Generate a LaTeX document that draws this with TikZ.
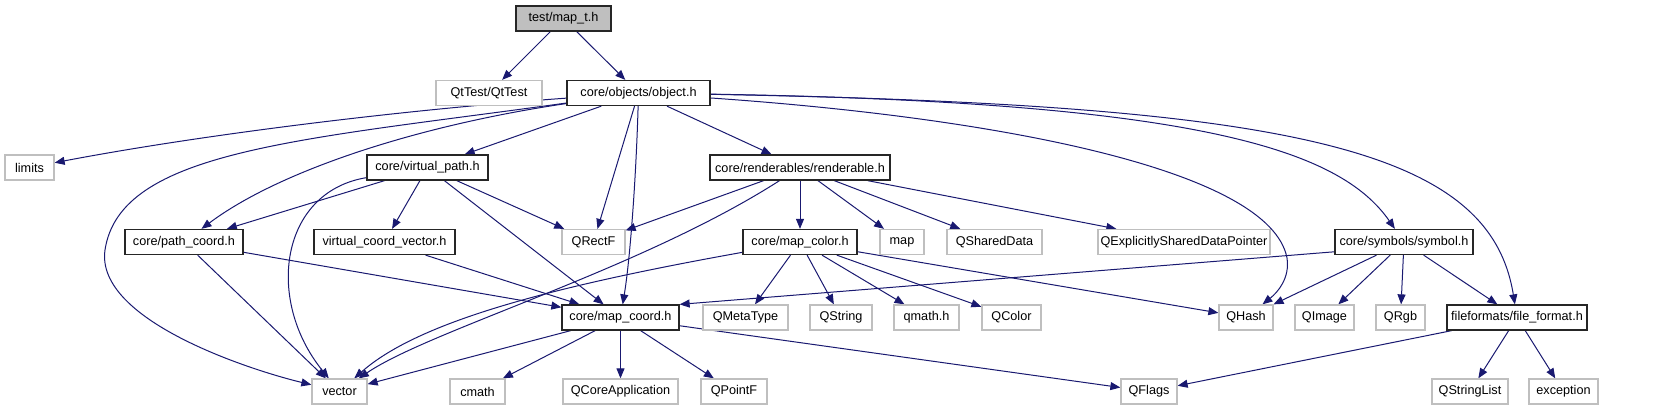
\documentclass[tikz,border=0pt]{standalone}
\usepackage{fontspec}
\setmainfont{Liberation Sans}
\usetikzlibrary{arrows.meta,backgrounds}
\definecolor{edgeblue}{HTML}{191970}
\definecolor{extgray}{HTML}{BFBFBF}
\tikzset{
    incl/.style={rectangle, draw=black!85, line width=0.95pt, minimum height=18.75pt, inner xsep=1pt, inner ysep=0pt, font=\fontsize{9.5}{11}\selectfont, fill=white},
    ext/.style={incl, draw=extgray},
    root/.style={incl, fill=extgray},
    wd/.style={minimum width=#1*0.75pt},
    dep/.style={-{Triangle[length=7.5pt, width=6pt]}, draw=edgeblue, line width=0.75pt},
}

\begin{document}
\begin{tikzpicture}[x=0.75pt, y=-0.75pt]
    \useasboundingbox (0,0) rectangle (1675,411);

    % row 0 and 1
    \node[root, wd=95] (mapt) at (563.5,18.5) {test/map\_t.h};
    \node[ext, wd=106] (qttest) at (489,93) {QtTest/QtTest};
    \node[incl, wd=143] (object) at (638.5,93) {core/objects/object.h};

    % row 2
    \node[ext, wd=49] (limits) at (29.5,167.5) {limits};
    \node[incl, wd=121] (vpath) at (427.5,167.5) {core/virtual\_path.h};
    \node[incl, wd=180] (rend) at (800,167.5) {core/renderables/renderable.h};

    % row 3
    \node[incl, wd=118] (pcoord) at (184,242) {core/path\_coord.h};
    \node[incl, wd=141] (vcvec) at (384.5,242) {virtual\_coord\_vector.h};
    \node[ext, wd=63] (qrectf) at (593.5,242) {QRectF};
    \node[incl, wd=114] (mcolor) at (800,242) {core/map\_color.h};
    \node[ext, wd=44] (map) at (902,242) {map};
    \node[ext, wd=95] (qshared) at (994.5,242) {QSharedData};
    \node[ext, wd=172] (qexpl) at (1184,242) {QExplicitlySharedDataPointer};
    \node[incl, wd=138] (symbol) at (1404,242) {core/symbols/symbol.h};

    % row 4
    \node[incl, wd=117] (mcoord) at (620.5,317.5) {core/map\_coord.h};
    \node[ext, wd=85] (qmeta) at (745.5,317.5) {QMetaType};
    \node[ext, wd=62] (qstring) at (841,317.5) {QString};
    \node[ext, wd=65] (qmath) at (926.5,317.5) {qmath.h};
    \node[ext, wd=59] (qcolor) at (1011.5,317.5) {QColor};
    \node[ext, wd=54] (qhash) at (1246,317.5) {QHash};
    \node[ext, wd=59] (qimage) at (1324.5,317.5) {QImage};
    \node[ext, wd=49] (qrgb) at (1400.5,317.5) {QRgb};
    \node[incl, wd=140] (ffmt) at (1517,317.5) {fileformats/file\_format.h};

    % row 5
    \node[ext, wd=55] (vector) at (339.5,391.5) {vector};
    \node[ext, wd=55] (cmath) at (477.5,391.5) {cmath};
    \node[ext, wd=115] (qcore) at (620.5,391.5) {QCoreApplication};
    \node[ext, wd=66] (qpointf) at (734,391.5) {QPointF};
    \node[ext, wd=56] (qflags) at (1149,391.5) {QFlags};
    \node[ext, wd=76] (qslist) at (1470,391.5) {QStringList};
    \node[ext, wd=69] (except) at (1563.5,391.5) {exception};

    \begin{scope}[on background layer]
    % test/map_t.h
    \draw[dep] (mapt) -- (qttest);
    \draw[dep] (mapt) -- (object);

    % core/objects/object.h
    \draw[dep] (object) .. controls (400,110) and (200,135) .. (limits);
    \draw[dep] (object) -- (vpath);
    \draw[dep] (object) .. controls (420,125) and (280,170) .. (pcoord);
    \draw[dep] (object) .. controls (300,140) and (120,150) .. (105,250) .. controls (95,320) and (250,370) .. (vector);
    \draw[dep] (object) -- (qrectf);
    \draw[dep] (object) .. controls (636,180) and (630,260) .. (mcoord);
    \draw[dep] (object) -- (rend);
    \draw[dep] (object) .. controls (1200,102) and (1340,150) .. (symbol);
    \draw[dep] (object) .. controls (1300,105) and (1490,150) .. (ffmt);
    \draw[dep] (object) .. controls (1000,118) and (1270,170) .. (1287,258) .. controls (1290,278) and (1278,292) .. (qhash);

    % core/virtual_path.h
    \draw[dep] (vpath) -- (pcoord);
    \draw[dep] (vpath) .. controls (280,192) and (265,300) .. (vector);
    \draw[dep] (vpath) -- (vcvec);
    \draw[dep] (vpath) -- (mcoord);
    \draw[dep] (vpath) -- (qrectf);

    % core/renderables/renderable.h
    \draw[dep] (rend) -- (qrectf);
    \draw[dep] (rend) .. controls (640,270) and (430,330) .. (vector);
    \draw[dep] (rend) -- (mcolor);
    \draw[dep] (rend) -- (map);
    \draw[dep] (rend) -- (qshared);
    \draw[dep] (rend) -- (qexpl);

    % row 3 includes
    \draw[dep] (pcoord) -- (vector);
    \draw[dep] (pcoord) -- (mcoord);
    \draw[dep] (vcvec) -- (mcoord);
    \draw[dep] (mcolor) .. controls (560,285) and (420,320) .. (vector);
    \draw[dep] (mcolor) -- (qmeta);
    \draw[dep] (mcolor) -- (qstring);
    \draw[dep] (mcolor) -- (qmath);
    \draw[dep] (mcolor) -- (qcolor);
    \draw[dep] (mcolor) -- (qhash);
    \draw[dep] (symbol.188) -- (mcoord.north east);
    \draw[dep] (symbol) -- (qhash);
    \draw[dep] (symbol) -- (qimage);
    \draw[dep] (symbol) -- (qrgb);
    \draw[dep] (symbol) -- (ffmt);

    % row 4 includes
    \draw[dep] (mcoord) -- (vector);
    \draw[dep] (mcoord) -- (cmath);
    \draw[dep] (mcoord) -- (qcore);
    \draw[dep] (mcoord) -- (qpointf);
    \draw[dep] (mcoord) -- (qflags);
    \draw[dep] (ffmt) -- (qflags);
    \draw[dep] (ffmt) -- (qslist);
    \draw[dep] (ffmt) -- (except);
    \end{scope}
\end{tikzpicture}
\end{document}
